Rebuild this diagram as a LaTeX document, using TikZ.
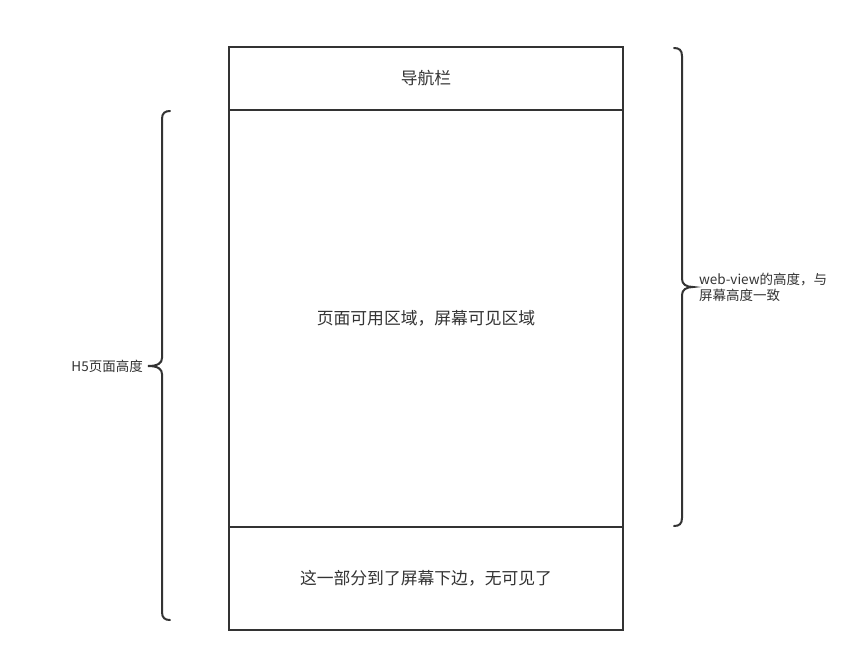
\documentclass[tikz,border=0pt]{standalone}
\usepackage{fontspec}
\setmainfont{Noto Sans CJK SC}
\begin{document}
\begin{tikzpicture}[x=1pt,y=-1pt,
  boxstyle/.style={draw=black!80,line width=1.8pt,minimum width=394pt,inner sep=0pt,font=\fontsize{16.8}{19}\selectfont,text=black!80},
  bracestyle/.style={draw=black!80,line width=2pt,line cap=round},
  lbl/.style={font=\fontsize{13.5}{16}\selectfont,text=black!80,inner sep=1pt}]
\useasboundingbox (0,0) rectangle (864,662);
\node[boxstyle,minimum height=63pt] (nav) at (426,78.5) {导航栏};
\node[boxstyle,minimum height=417pt] (main) at (426,318.5) {页面可用区域，屏幕可见区域};
\node[boxstyle,minimum height=103pt] (bottom) at (426,578.5) {这一部分到了屏幕下边，无可见了};
% right brace
\draw[bracestyle] (674,48) .. controls (679,48) and (682,50) .. (682,56) -- (682,279)
  .. controls (682,284) and (686,287) .. (693,287)
  .. controls (686,287) and (682,290) .. (682,295) -- (682,518)
  .. controls (682,524) and (679,526) .. (674,526);
\coordinate (rtip) at (698,287);
\node[lbl,anchor=west,align=left] (wv) at (rtip) {web-view的高度，与\\屏幕高度一致};
% left brace
\draw[bracestyle] (170,111) .. controls (165,111) and (162,113) .. (162,119) -- (162,358)
  .. controls (162,363) and (158,366) .. (148,366)
  .. controls (158,366) and (162,369) .. (162,374) -- (162,612)
  .. controls (162,618) and (165,620) .. (170,620);
\coordinate (ltip) at (144,366);
\node[lbl,anchor=east] (h5) at (ltip) {H5页面高度};
\end{tikzpicture}
\end{document}
